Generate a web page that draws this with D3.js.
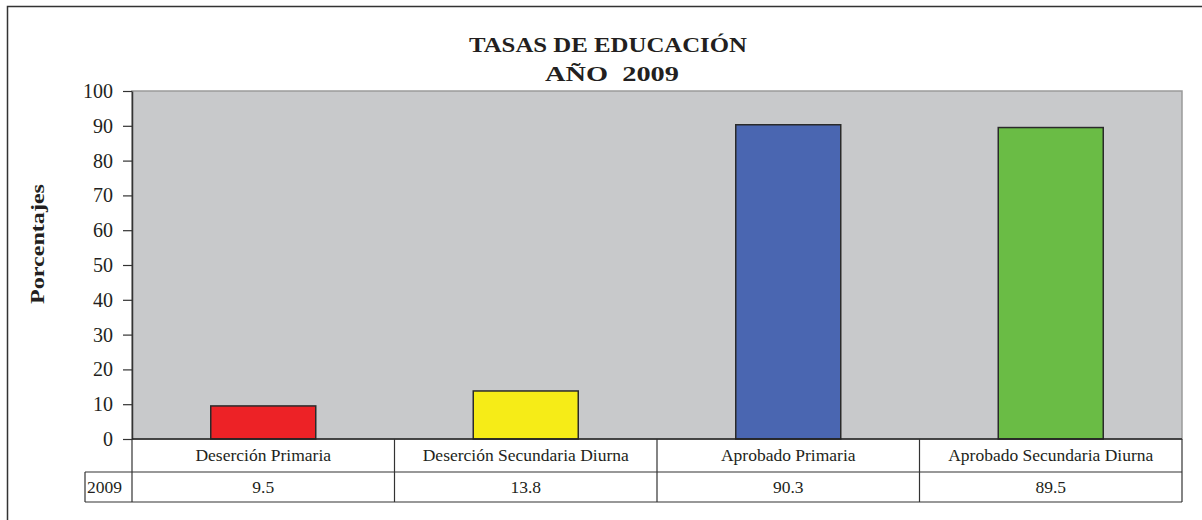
<!DOCTYPE html>
<html>
<head>
<meta charset="utf-8">
<script src="https://cdn.jsdelivr.net/npm/d3@7"></script>
<style>
  body { margin: 0; background: #fff; }
  svg { display: block; }
  text { font-family: "Liberation Serif", "DejaVu Serif", serif; white-space: pre; }
</style>
</head>
<body>
<svg width="1202" height="520"></svg>
<script>
// data
const categories = ['Deserción Primaria', 'Deserción Secundaria Diurna', 'Aprobado Primaria', 'Aprobado Secundaria Diurna']
const values = [9.5, 13.8, 90.3, 89.5]
const colors = ['#ed2226', '#f6ec17', '#4a66b1', '#6abc45']
const seriesName = '2009'
const yTicks = [0, 10, 20, 30, 40, 50, 60, 70, 80, 90, 100]

// layout
const plotLeft = 132, plotRight = 1182, plotTop = 91, plotBottom = 439
const row1 = 472, row2 = 502
const serif = '"Liberation Serif", "DejaVu Serif", serif'
const ink = '#231f20'

const svg = d3.select('svg')

// outer frame (runs off the right and bottom edges)
svg.append('rect')
  .attr('x', 7.5).attr('y', 6.5)
  .attr('width', 1220).attr('height', 540)
  .attr('fill', 'none').attr('stroke', '#333').attr('stroke-width', 1.5)

let x = d3.scaleBand().domain(categories).range([plotLeft, plotRight]).padding(0)
let y = d3.scaleLinear().domain([0, 100]).range([plotBottom, plotTop])

// plot area
svg.append('rect')
  .attr('x', plotLeft).attr('y', plotTop)
  .attr('width', plotRight - plotLeft).attr('height', plotBottom - plotTop)
  .attr('fill', '#c8c9cb').attr('stroke', '#9a9a9a').attr('stroke-width', 1.5)

// bars
let barW = x.bandwidth() * 0.4
svg.selectAll('.bar')
  .data(categories)
  .enter().append('rect')
  .attr('class', 'bar')
  .attr('x', d => x(d) + (x.bandwidth() - barW) / 2)
  .attr('y', (d, i) => y(values[i]))
  .attr('width', barW)
  .attr('height', (d, i) => y(0) - y(values[i]))
  .attr('fill', (d, i) => colors[i])
  .attr('stroke', '#2a2a2a').attr('stroke-width', 1.5)

// y axis
let yAxis = svg.append('g')
  .attr('transform', `translate(${plotLeft},0)`)
  .call(d3.axisLeft(y).tickValues(yTicks).tickSize(9).tickPadding(10).tickSizeOuter(0))
yAxis.attr('font-family', serif)
yAxis.select('.domain').attr('stroke', '#333').attr('stroke-width', 1.5)
yAxis.selectAll('.tick line').attr('stroke', '#333').attr('stroke-width', 1.2)
yAxis.selectAll('.tick text')
  .attr('font-size', '20px')
  .attr('font-family', serif)
  .attr('fill', ink)

// baseline
svg.append('line')
  .attr('x1', plotLeft).attr('x2', plotRight)
  .attr('y1', plotBottom).attr('y2', plotBottom)
  .attr('stroke', '#222').attr('stroke-width', 1.5)

// data table
let t = svg.append('g').attr('stroke', '#333').attr('stroke-width', 1.2)
t.append('line').attr('x1', plotLeft).attr('x2', plotLeft).attr('y1', plotBottom).attr('y2', row2)
t.append('line').attr('x1', 85).attr('x2', plotRight).attr('y1', row1).attr('y2', row1)
t.append('line').attr('x1', 85).attr('x2', plotRight).attr('y1', row2).attr('y2', row2)
t.append('line').attr('x1', 85).attr('x2', 85).attr('y1', row1).attr('y2', row2)
categories.forEach(c => {
  t.append('line')
    .attr('x1', x(c) + x.bandwidth()).attr('x2', x(c) + x.bandwidth())
    .attr('y1', plotBottom).attr('y2', row2)
})

svg.selectAll('.cat')
  .data(categories)
  .enter().append('text')
  .attr('x', d => x(d) + x.bandwidth() / 2)
  .attr('y', 461)
  .attr('text-anchor', 'middle')
  .attr('font-family', serif)
  .attr('font-size', '17.5px')
  .attr('fill', ink)
  .text(d => d)

svg.selectAll('.val')
  .data(categories)
  .enter().append('text')
  .attr('x', d => x(d) + x.bandwidth() / 2)
  .attr('y', 493)
  .attr('text-anchor', 'middle')
  .attr('font-family', serif)
  .attr('font-size', '17.5px')
  .attr('fill', ink)
  .text((d, i) => values[i])

svg.append('text')
  .attr('x', 87).attr('y', 493)
  .attr('font-family', serif)
  .attr('font-size', '17.5px')
  .attr('fill', ink)
  .text(seriesName)

// titles
svg.append('text')
  .attr('x', 608).attr('y', 52)
  .attr('text-anchor', 'middle')
  .attr('font-family', serif)
  .attr('font-size', '22px').attr('font-weight', 'bold')
  .attr('textLength', 278).attr('lengthAdjust', 'spacingAndGlyphs')
  .attr('fill', ink)
  .text('TASAS DE EDUCACIÓN')
svg.append('text')
  .attr('x', 612).attr('y', 81)
  .attr('text-anchor', 'middle')
  .attr('font-family', serif)
  .attr('font-size', '22px').attr('font-weight', 'bold')
  .attr('textLength', 134).attr('lengthAdjust', 'spacingAndGlyphs')
  .attr('fill', ink)
  .text('AÑO  2009')

svg.append('text')
  .attr('transform', 'translate(44,244) rotate(-90)')
  .attr('text-anchor', 'middle')
  .attr('font-family', serif)
  .attr('font-size', '19px').attr('font-weight', 'bold')
  .attr('textLength', 120).attr('lengthAdjust', 'spacingAndGlyphs')
  .attr('fill', ink)
  .text('Porcentajes')
</script>
</body>
</html>
